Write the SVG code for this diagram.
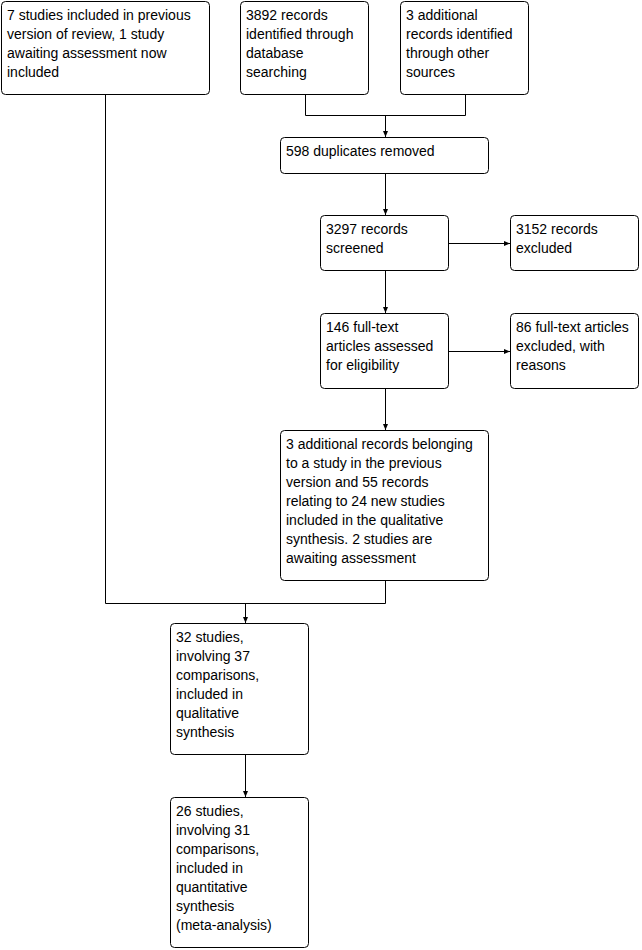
<svg xmlns="http://www.w3.org/2000/svg" width="642" height="950" viewBox="0 0 642 950">
<defs>
<style>
.box{fill:#fff;stroke:#000;stroke-width:1}
text{font-family:"Liberation Sans",Arial,sans-serif;font-size:14px;fill:#000}
.ln{fill:none;stroke:#000;stroke-width:1}
</style>
<marker id="ah" viewBox="0 0 6 6" refX="6" refY="3" markerWidth="6" markerHeight="6" orient="auto" markerUnits="userSpaceOnUse">
<path d="M0,0.5 L6,3 L0,5.5 Z" fill="#000"/>
</marker>
</defs>
<rect width="642" height="950" fill="#fff"/>
<g id="connectors">
<path class="ln" d="M305.5,95 V115.5 H465.5 V95"/>
<path class="ln" d="M385.5,115.5 V137" marker-end="url(#ah)"/>
<path class="ln" d="M385.5,174 V215" marker-end="url(#ah)"/>
<path class="ln" d="M449,243.5 H510" marker-end="url(#ah)"/>
<path class="ln" d="M385.5,271 V313" marker-end="url(#ah)"/>
<path class="ln" d="M449,351.5 H510" marker-end="url(#ah)"/>
<path class="ln" d="M385.5,389 V430" marker-end="url(#ah)"/>
<path class="ln" d="M105.5,95 V603.5 H385.5 V581"/>
<path class="ln" d="M245.5,603.5 V623" marker-end="url(#ah)"/>
<path class="ln" d="M245.5,755 V797" marker-end="url(#ah)"/>
</g>
<g id="n1"><rect class="box" x="1.5" y="1.5" width="208" height="93" rx="4"/>
<text x="7" y="20">7 studies included in previous</text><text x="7" y="39">version of review, 1 study</text><text x="7" y="58">awaiting assessment now</text><text x="7" y="77">included</text></g>
<g id="n2"><rect class="box" x="240.5" y="1.5" width="128" height="93" rx="4"/>
<text x="246" y="20">3892 records</text><text x="246" y="39">identified through</text><text x="246" y="58">database</text><text x="246" y="77">searching</text></g>
<g id="n3"><rect class="box" x="400.5" y="1.5" width="128" height="93" rx="4"/>
<text x="406" y="20">3 additional</text><text x="406" y="39">records identified</text><text x="406" y="58">through other</text><text x="406" y="77">sources</text></g>
<g id="n4"><rect class="box" x="280.5" y="137.5" width="208" height="36" rx="4"/>
<text x="286" y="156">598 duplicates removed</text></g>
<g id="n5"><rect class="box" x="320.5" y="215.5" width="128" height="55" rx="4"/>
<text x="326" y="234">3297 records</text><text x="326" y="253">screened</text></g>
<g id="n6"><rect class="box" x="510.5" y="215.5" width="128" height="55" rx="4"/>
<text x="516" y="234">3152 records</text><text x="516" y="253">excluded</text></g>
<g id="n7"><rect class="box" x="320.5" y="313.5" width="128" height="75" rx="4"/>
<text x="326" y="332">146 full-text</text><text x="326" y="351">articles assessed</text><text x="326" y="370">for eligibility</text></g>
<g id="n8"><rect class="box" x="510.5" y="313.5" width="128" height="75" rx="4"/>
<text x="516" y="332">86 full-text articles</text><text x="516" y="351">excluded, with</text><text x="516" y="370">reasons</text></g>
<g id="n9"><rect class="box" x="280.5" y="430.5" width="208" height="150" rx="4"/>
<text x="286" y="449">3 additional records belonging</text><text x="286" y="468">to a study in the previous</text><text x="286" y="487">version and 55 records</text><text x="286" y="506">relating to 24 new studies</text><text x="286" y="525">included in the qualitative</text><text x="286" y="544">synthesis. 2 studies are</text><text x="286" y="563">awaiting assessment</text></g>
<g id="n10"><rect class="box" x="170.5" y="623.5" width="138" height="131" rx="4"/>
<text x="176" y="642">32 studies,</text><text x="176" y="661">involving 37</text><text x="176" y="680">comparisons,</text><text x="176" y="699">included in</text><text x="176" y="718">qualitative</text><text x="176" y="737">synthesis</text></g>
<g id="n11"><rect class="box" x="170.5" y="797.5" width="138" height="150" rx="4"/>
<text x="176" y="816">26 studies,</text><text x="176" y="835">involving 31</text><text x="176" y="854">comparisons,</text><text x="176" y="873">included in</text><text x="176" y="892">quantitative</text><text x="176" y="911">synthesis</text><text x="176" y="930">(meta-analysis)</text></g>
</svg>
